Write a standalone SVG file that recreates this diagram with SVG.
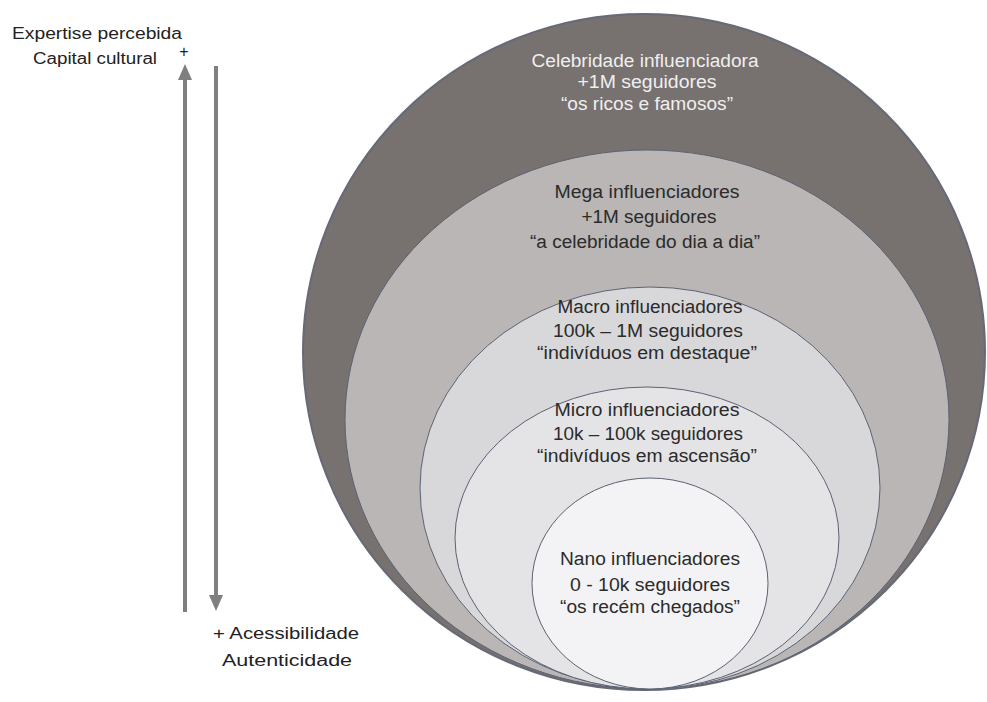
<svg xmlns="http://www.w3.org/2000/svg" width="987" height="702" viewBox="0 0 987 702">
  <style>
    text { font-family: "Liberation Sans", Arial, sans-serif; text-anchor: middle; }
    .lbl { font-size: 16px; fill: #222; }
    .ring { font-size: 18px; fill: #2b2b2b; }
    .light { fill: #efefef; }
    .edge { stroke: #5b6274; stroke-width: 1; }
    .arrow { stroke: #7f7f7f; stroke-width: 4; fill: none; }
  </style>
  <defs>
    <!-- triangular head drawn along +x so orient="auto" follows the line -->
    <marker id="head" viewBox="0 0 16 14" refX="10" refY="7" markerWidth="16" markerHeight="14" markerUnits="userSpaceOnUse" orient="auto">
      <path d="M0,0 L16,7 L0,14 Z" fill="#7f7f7f"/>
    </marker>
  </defs>
  <rect width="987" height="702" fill="#ffffff"/>

  <!-- axis labels -->
  <g id="labels">
    <text class="lbl" x="97" y="39" textLength="170" lengthAdjust="spacingAndGlyphs">Expertise percebida</text>
    <text class="lbl" x="95" y="64" textLength="124" lengthAdjust="spacingAndGlyphs">Capital cultural</text>
    <text class="lbl" x="184" y="57">+</text>
    <text class="lbl" x="286" y="639" textLength="146" lengthAdjust="spacingAndGlyphs">+ Acessibilidade</text>
    <text class="lbl" x="287" y="666" textLength="130" lengthAdjust="spacingAndGlyphs">Autenticidade</text>
  </g>

  <!-- vertical arrows -->
  <g id="connectors">
    <line class="arrow" x1="185" y1="612" x2="185" y2="70" marker-end="url(#head)"/>
    <line class="arrow" x1="216" y1="66" x2="216" y2="605" marker-end="url(#head)"/>
  </g>

  <!-- nested tiers -->
  <g id="celebridade">
    <ellipse cx="644" cy="352" rx="341" ry="338" fill="#777170" stroke="#666a76" stroke-width="2"/>
    <text class="ring light" x="645" y="67" textLength="227" lengthAdjust="spacingAndGlyphs">Celebridade influenciadora</text>
    <text class="ring light" x="647" y="88" textLength="139" lengthAdjust="spacingAndGlyphs">+1M seguidores</text>
    <text class="ring light" x="647" y="110" textLength="172" lengthAdjust="spacingAndGlyphs">“os ricos e famosos”</text>
  </g>
  <g id="mega">
    <ellipse class="edge" cx="647" cy="419.5" rx="302" ry="269.5" fill="#b9b6b5"/>
    <text class="ring" x="647" y="198" textLength="185" lengthAdjust="spacingAndGlyphs">Mega influenciadores</text>
    <text class="ring" x="649" y="223" textLength="135" lengthAdjust="spacingAndGlyphs">+1M seguidores</text>
    <text class="ring" x="645" y="248" textLength="230" lengthAdjust="spacingAndGlyphs">“a celebridade do dia a dia”</text>
  </g>
  <g id="macro">
    <ellipse class="edge" cx="650" cy="488" rx="230" ry="201" fill="#d8d8da"/>
    <text class="ring" x="650" y="313" textLength="185" lengthAdjust="spacingAndGlyphs">Macro influenciadores</text>
    <text class="ring" x="648" y="337" textLength="190" lengthAdjust="spacingAndGlyphs">100k – 1M seguidores</text>
    <text class="ring" x="647" y="359" textLength="220" lengthAdjust="spacingAndGlyphs">“indivíduos em destaque”</text>
  </g>
  <g id="micro">
    <ellipse class="edge" cx="647" cy="538" rx="192" ry="151" fill="#e4e4e6"/>
    <text class="ring" x="647" y="416" textLength="185" lengthAdjust="spacingAndGlyphs">Micro influenciadores</text>
    <text class="ring" x="648" y="440" textLength="190" lengthAdjust="spacingAndGlyphs">10k – 100k seguidores</text>
    <text class="ring" x="647" y="462" textLength="220" lengthAdjust="spacingAndGlyphs">“indivíduos em ascensão”</text>
  </g>
  <g id="nano">
    <ellipse class="edge" cx="650" cy="583.5" rx="118" ry="105.5" fill="#f3f3f5"/>
    <text class="ring" x="650" y="565" textLength="180" lengthAdjust="spacingAndGlyphs">Nano influenciadores</text>
    <text class="ring" x="650" y="591" textLength="160" lengthAdjust="spacingAndGlyphs">0 - 10k seguidores</text>
    <text class="ring" x="650" y="613" textLength="180" lengthAdjust="spacingAndGlyphs">“os recém chegados”</text>
  </g>
</svg>
